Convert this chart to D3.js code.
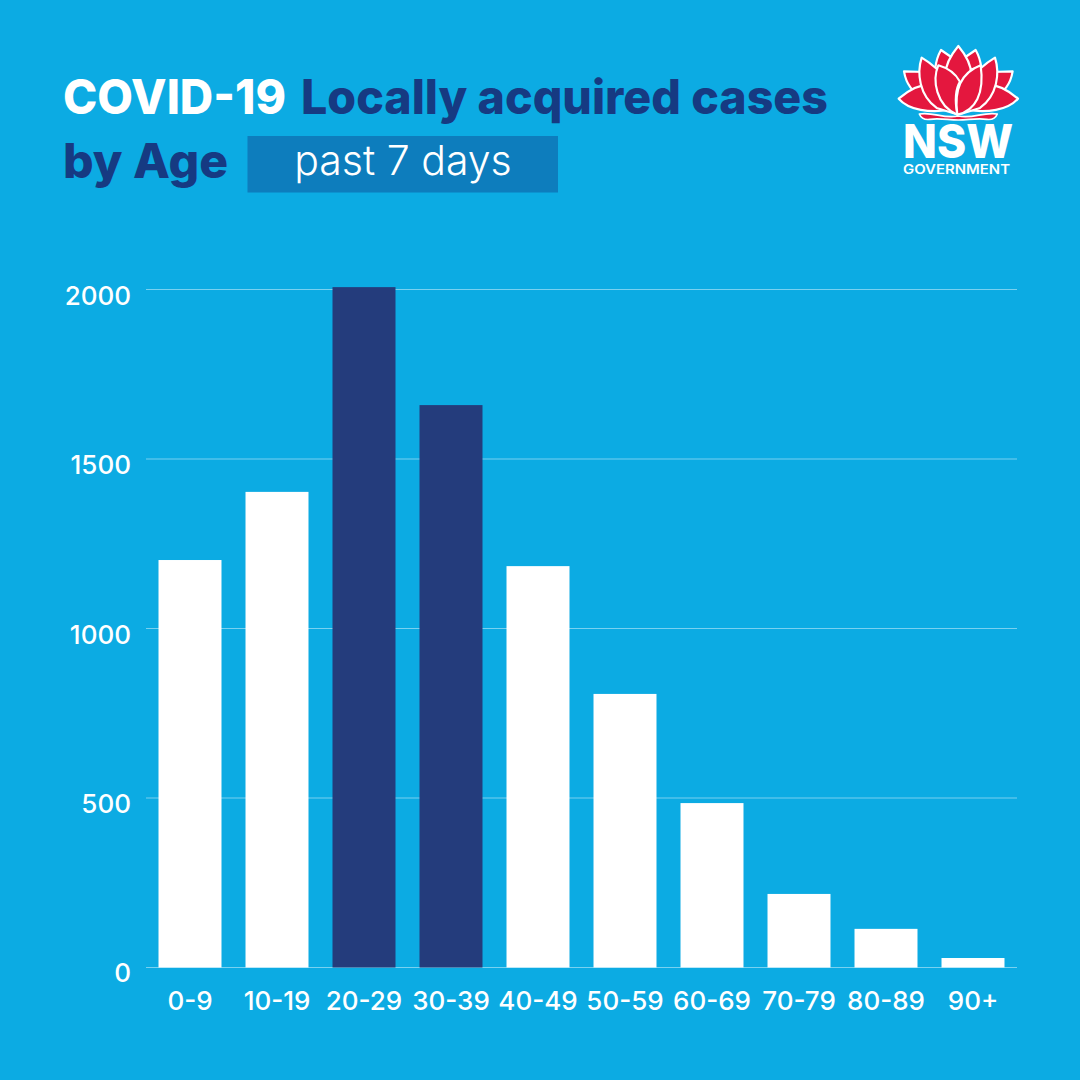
<!DOCTYPE html>
<html><head><meta charset="utf-8">
<script src="https://cdn.jsdelivr.net/npm/d3@7"></script>
<style>html,body{margin:0;padding:0;background:#0DABE4}svg{display:block}text{font-family:Inter,"Liberation Sans",sans-serif}</style>
</head><body><div id="c"></div>
<script>
const ageGroups=["0-9","10-19","20-29","30-39","40-49","50-59","60-69","70-79","80-89","90+"];
const caseCounts=[1202,1403,2007,1659,1184,807,485,217,114,28];
const highlighted=["20-29","30-39"];
const yTicks=[0,500,1000,1500,2000];
const W=1080,H=1080;
const svg=d3.select("#c").append("svg").attr("width",W).attr("height",H);
svg.append("rect").attr("width",W).attr("height",H).attr("fill","#0CABE3");
const x=d3.scaleBand().domain(ageGroups).range([146.5,1016.5]).paddingInner(0.276).paddingOuter(0.138);
const y=d3.scaleLinear().domain([0,2000]).range([967.5,289.5]);
// grid
const yAxis=svg.append("g").attr("transform","translate(146,-0.5)").call(d3.axisLeft(y).tickValues(yTicks).tickSize(-871).tickPadding(15).tickFormat(d3.format("d")));
yAxis.select(".domain").remove();
yAxis.selectAll("line").attr("stroke","#fff").attr("stroke-opacity",0.45).attr("stroke-width",1);
yAxis.selectAll("text").attr("fill","#fff").attr("font-size",26).attr("font-family","Inter").attr("font-weight",500).attr("dy",null).attr("y",d=>d===0?14:15);
// bars
svg.append("g").selectAll("rect").data(ageGroups).join("rect")
 .attr("x",d=>x(d)).attr("width",x.bandwidth())
 .attr("y",(d,i)=>y(caseCounts[i])).attr("height",(d,i)=>y(0)-y(caseCounts[i]))
 .attr("fill",d=>highlighted.includes(d)?"#243C7C":"#fff");
// x axis labels
const xAxis=svg.append("g").attr("transform","translate(0,967.5)").call(d3.axisBottom(x).tickSize(0).tickPadding(24));
xAxis.select(".domain").remove();
xAxis.selectAll("text").attr("fill","#fff").attr("font-size",26).attr("font-family","Inter").attr("font-weight",500);
// title
const ttl=(tx,ty,len,fill,s)=>svg.append("text").attr("x",tx).attr("y",ty).attr("font-size",47.5).attr("font-weight",800).attr("fill",fill).attr("textLength",len).attr("lengthAdjust","spacingAndGlyphs").text(s);
ttl(63,114,223,"#fff","COVID-19");
ttl(301,114,527,"#163A82","Locally acquired cases");
ttl(63,178,165,"#163A82","by Age");
svg.append("rect").attr("x",247.5).attr("y",136).attr("width",310.5).attr("height",56.5).attr("fill","#0D7DBD");
svg.append("text").attr("x",403).attr("y",175).attr("text-anchor","middle").attr("font-size",41).attr("font-weight",300).attr("font-family","Roboto").attr("fill","#fff").text("past 7 days");
// logo
const logo=svg.append("g").attr("transform","translate(880,30) scale(0.3333)");
const red="#E4173E";
const petal=(d,m,sw=6.5)=>logo.append("path").attr("d",d).attr("fill",red).attr("stroke","#fff").attr("stroke-width",sw).attr("stroke-linejoin","round").attr("transform",m?"translate(470,0) scale(-1,1)":null);
const both=d=>{petal(d,false,0);petal(d,true,0);};
both("M183 60C174 76 168 95 166 114L218 120L218 84Z");
both("M72 124C78 160 98 192 130 197L178 172L136 126Z");
both("M56 206C88 178 120 163 152 163L208 240C150 248 88 242 56 206Z");
petal("M235 48C210 78 196 105 196 135L235 178L274 135C274 105 260 78 235 48Z",false,0);
both("M125 83C110 130 118 197 170 234L228 252L197 150C176 116 150 98 125 83Z");
logo.selectAll("path").attr("stroke-width",6.5);
petal("M175 106C156 150 168 227 232 254C222 200 228 175 240 155C226 130 200 113 175 106Z");
petal("M302 106C250 126 220 170 232 254C287 242 314 190 302 106Z");
petal("M118 252C160 244 190 268 235 258C280 268 310 244 352 252C347 264 335 270 320 268C290 264 265 270 235 270C205 270 180 264 150 268C135 270 123 264 118 252Z",false,5);
svg.append("text").attr("x",903).attr("y",158).attr("font-size",47).attr("font-weight",800).attr("fill","#fff").attr("textLength",110).attr("lengthAdjust","spacingAndGlyphs").text("NSW");
svg.append("text").attr("x",903).attr("y",174).attr("font-size",12.5).attr("font-weight",600).attr("fill","#fff").attr("textLength",107).attr("lengthAdjust","spacingAndGlyphs").text("GOVERNMENT");
</script></body></html>
